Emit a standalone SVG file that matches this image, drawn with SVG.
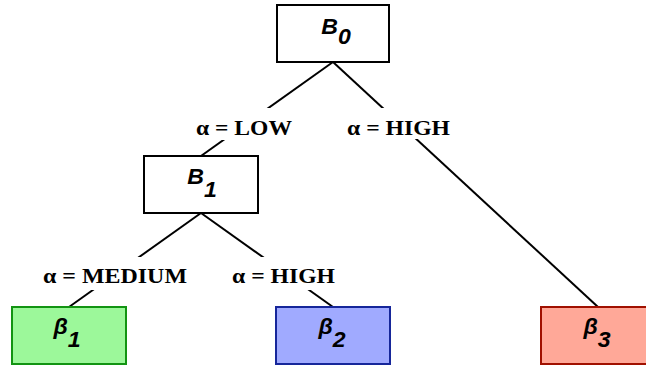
<svg xmlns="http://www.w3.org/2000/svg" width="646" height="368" viewBox="0 0 646 368">
<style>
.box{fill:#ffffff;stroke:#000000;stroke-width:2}
.node-text{font-family:"Liberation Sans",Arial,sans-serif;font-weight:bold;font-style:italic;font-size:22px;fill:#000000}
.edge{stroke:#000000;stroke-width:2;fill:none}
.lbl{font-family:"Liberation Serif","Times New Roman",serif;font-weight:bold;font-size:22px;fill:#000000}
.lblbg{fill:#ffffff;stroke:none}
</style>
<rect x="0" y="0" width="646" height="368" fill="#ffffff"/>
<g id="connectors">
<line class="edge" x1="333" y1="62" x2="201" y2="156"/>
<line class="edge" x1="333" y1="62" x2="598" y2="307"/>
<line class="edge" x1="201" y1="213" x2="69" y2="307"/>
<line class="edge" x1="201" y1="213" x2="333" y2="307"/>
<g id="edge-labels">
<rect class="lblbg" x="194" y="108" width="100" height="32"/>
<text class="lbl" x="196" y="135" textLength="96" lengthAdjust="spacingAndGlyphs">α = LOW</text>
<rect class="lblbg" x="345" y="108" width="107" height="31"/>
<text class="lbl" x="347" y="135" textLength="103" lengthAdjust="spacingAndGlyphs">α = HIGH</text>
<rect class="lblbg" x="41" y="257" width="148" height="33"/>
<text class="lbl" x="43" y="283" textLength="144" lengthAdjust="spacingAndGlyphs">α = MEDIUM</text>
<rect class="lblbg" x="230" y="257" width="107" height="33"/>
<text class="lbl" x="232" y="283" textLength="103" lengthAdjust="spacingAndGlyphs">α = HIGH</text>
</g>
</g>
<g id="B0">
<rect class="box" x="277" y="5" width="112" height="57"/>
<text class="node-text" transform="translate(336,34) scale(1.05,1)" text-anchor="middle">B<tspan dy="10">0</tspan></text>
</g>
<g id="B1">
<rect class="box" x="144" y="156" width="114" height="57"/>
<text class="node-text" transform="translate(202,184) scale(1.05,1)" text-anchor="middle">B<tspan dy="13">1</tspan></text>
</g>
<g id="beta1">
<rect x="12" y="307" width="114" height="57" fill="#9cf89a" stroke="#129412" stroke-width="2"/>
<text class="node-text" transform="translate(67,334) scale(1.05,1)" text-anchor="middle">β<tspan dy="13">1</tspan></text>
</g>
<g id="beta2">
<rect x="276" y="307" width="114" height="57" fill="#a0aaff" stroke="#16269a" stroke-width="2"/>
<text class="node-text" transform="translate(332,334) scale(1.05,1)" text-anchor="middle">β<tspan dy="13">2</tspan></text>
</g>
<g id="beta3">
<rect x="541" y="307" width="114" height="57" fill="#ffa898" stroke="#a01000" stroke-width="2"/>
<text class="node-text" transform="translate(597,334) scale(1.05,1)" text-anchor="middle">β<tspan dy="13">3</tspan></text>
</g>
</svg>
